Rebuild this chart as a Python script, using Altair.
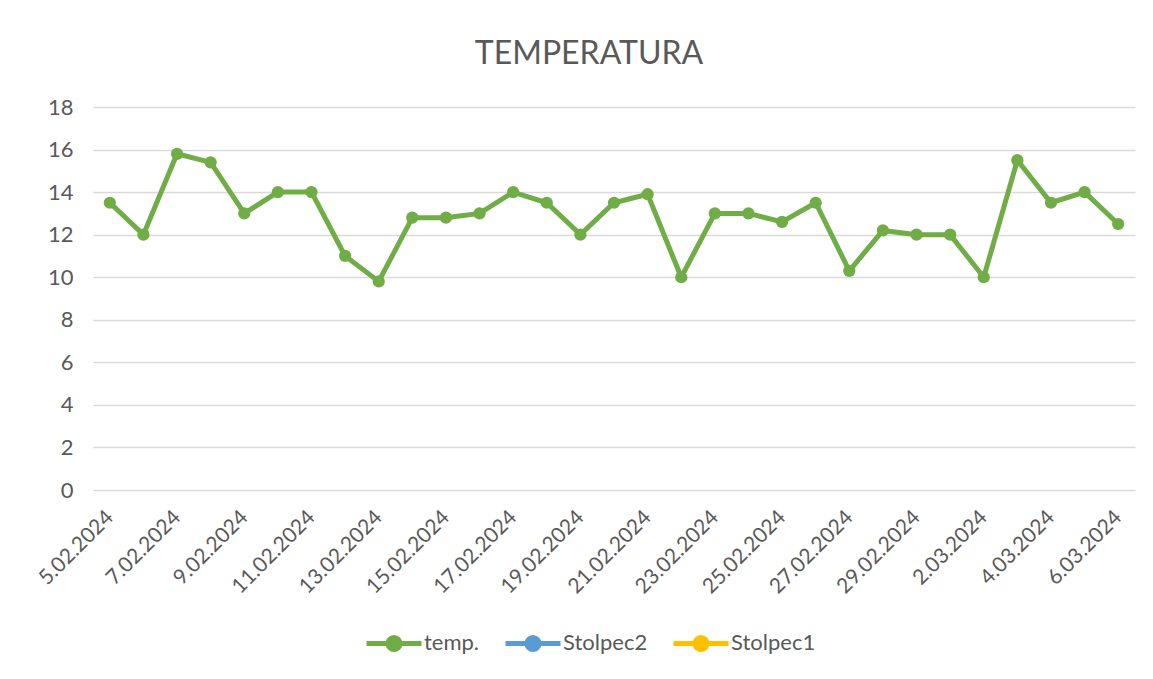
import altair as alt
import pandas as pd

dates = [
    "5.02.2024", "6.02.2024", "7.02.2024", "8.02.2024", "9.02.2024", "10.02.2024",
    "11.02.2024", "12.02.2024", "13.02.2024", "14.02.2024", "15.02.2024", "16.02.2024",
    "17.02.2024", "18.02.2024", "19.02.2024", "20.02.2024", "21.02.2024", "22.02.2024",
    "23.02.2024", "24.02.2024", "25.02.2024", "26.02.2024", "27.02.2024", "28.02.2024",
    "29.02.2024", "1.03.2024", "2.03.2024", "3.03.2024", "4.03.2024", "5.03.2024",
    "6.03.2024",
]
temp = [
    13.5, 12.0, 15.8, 15.4, 13.0, 14.0,
    14.0, 11.0, 9.8, 12.8, 12.8, 13.0,
    14.0, 13.5, 12.0, 13.5, 13.9, 10.0,
    13.0, 13.0, 12.6, 13.5, 10.3, 12.2,
    12.0, 12.0, 10.0, 15.5, 13.5, 14.0,
    12.5,
]
series_names = ["temp.", "Stolpec2", "Stolpec1"]
series_colors = ["#70AD47", "#5B9BD5", "#FFC000"]
y_ticks = [0, 2, 4, 6, 8, 10, 12, 14, 16, 18]

df = pd.DataFrame({"date": dates, "value": temp, "series": "temp."})

FONT = "Lato"
TXT = "#595959"

legend_path = ("M-1,0L1,0M-0.22,0A0.22,0.22,0,1,1,0.22,0"
               "A0.22,0.22,0,1,1,-0.22,0Z")

color = alt.Color(
    "series:N",
    scale=alt.Scale(domain=series_names, range=series_colors),
    legend=alt.Legend(
        title=None,
        orient="none",
        direction="horizontal",
        legendX=271,
        legendY=506,
        symbolType=legend_path,
        symbolSize=3025,
        symbolStrokeWidth=5,
        labelFontSize=22,
        labelFont=FONT,
        labelColor=TXT,
        labelOffset=0,
        columnPadding=15,
    ),
)

x = alt.X(
    "date:N",
    sort=dates,
    title=None,
    scale=alt.Scale(padding=0.5),
    axis=alt.Axis(
        values=dates[::2],
        labelAngle=-45,
        labelAlign="right",
        labelBaseline="middle",
        labelPadding=24,
        labelFontSize=21,
        labelFont=FONT,
        labelColor=TXT,
        ticks=False,
        domain=False,
        grid=False,
    ),
)
y = alt.Y(
    "value:Q",
    title=None,
    scale=alt.Scale(domain=[0, 18], nice=False),
    axis=alt.Axis(
        values=y_ticks,
        labelFontSize=22,
        labelFont=FONT,
        labelColor=TXT,
        labelPadding=20,
        ticks=False,
        domain=False,
        grid=True,
        gridColor="#D9D9D9",
        gridWidth=1.5,
    ),
)

base = alt.Chart(df)
points = base.mark_point(filled=True, opacity=1, size=150).encode(x=x, y=y, color=color)
line = base.mark_line(strokeWidth=5).encode(x=x, y=y, color=color)

chart = (
    alt.layer(line, points)
    .properties(
        width=1042,
        height=383,
        padding={"left": 85, "top": 99, "right": 2, "bottom": 173},
        autosize=alt.AutoSizeParams(type="none"),
        background="white",
        title=alt.TitleParams(
            "TEMPERATURA",
            font=FONT,
            fontSize=32,
            fontWeight="normal",
            color=TXT,
            anchor="middle",
            offset=25,
            dx=-25,
        ),
    )
    .configure_view(stroke=None)
)

chart.save("out.html", embed_options={"renderer": "svg", "actions": False})
